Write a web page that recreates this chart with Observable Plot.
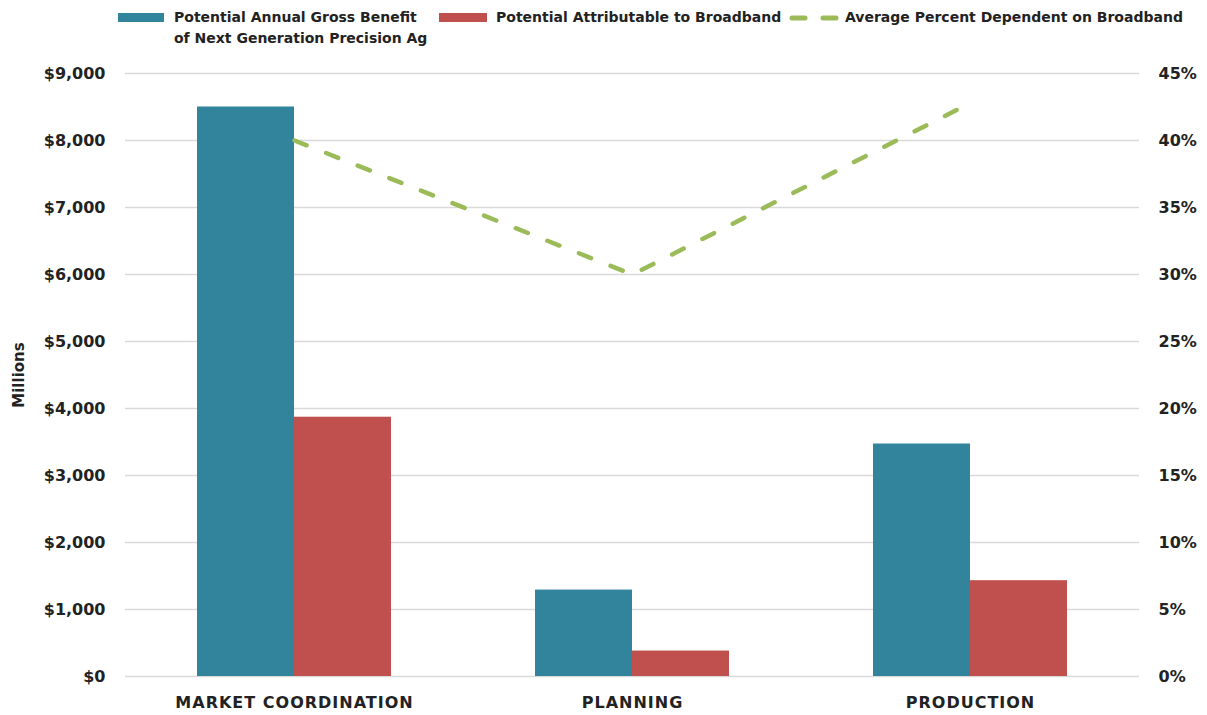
<!DOCTYPE html>
<html>
<head>
<meta charset="utf-8">
<script src="https://cdn.jsdelivr.net/npm/d3@7"></script>
<script src="https://cdn.jsdelivr.net/npm/@observablehq/plot@0.6"></script>
<style>
  html, body { margin: 0; padding: 0; background: #fff; }
  body { width: 1207px; height: 715px; overflow: hidden; font-family: "DejaVu Sans", sans-serif; }
  #legend { position: relative; height: 50px; font-weight: bold; font-size: 14px; color: #222; }
  .sw { position: absolute; }
  .lt { position: absolute; line-height: 21px; white-space: nowrap; }
  g[aria-label="x-axis tick label"] text { letter-spacing: 1px; }
</style>
</head>
<body>
<div id="legend"></div>
<div id="chart"></div>
<script>
const categories = ["MARKET COORDINATION", "PLANNING", "PRODUCTION"];
const grossBenefit = [8500, 1290, 3470];
const attributable = [3870, 380, 1430];
const pctDependent = [0.40, 0.30, 0.428];
const seriesNames = [
  "Potential Annual Gross Benefit of Next Generation Precision Ag",
  "Potential Attributable to Broadband",
  "Average Percent Dependent on Broadband"
];
const colors = ["#31849B", "#C0504D", "#9BBB59"];
const leftTicks = [0, 1000, 2000, 3000, 4000, 5000, 6000, 7000, 8000, 9000];
const rightTicks = [0, 0.05, 0.10, 0.15, 0.20, 0.25, 0.30, 0.35, 0.40, 0.45];

const yMax = 9000, pMax = 0.45;
const toY = p => p * yMax / pMax;

const barsBlue = categories.map((c, i) => ({category: c, value: grossBenefit[i]}));
const barsRed = categories.map((c, i) => ({category: c, value: attributable[i]}));
const linePts = categories.map((c, i) => ({category: c, pct: pctDependent[i]}));

const width = 1207, height = 665;
const marginLeft = 125, marginRight = 68, marginTop = 23, marginBottom = 39;
const padInner = 0.426, padOuter = 0.213;
const step = (width - marginLeft - marginRight) / (categories.length - padInner + 2 * padOuter);
const half = step * (1 - padInner) / 2;

const chart = Plot.plot({
  width, height, marginLeft, marginRight, marginTop, marginBottom,
  style: {fontFamily: "DejaVu Sans, sans-serif", fontWeight: "bold", fontSize: "16px", color: "#222", background: "#fff"},
  x: {domain: categories, paddingInner: padInner, paddingOuter: padOuter, label: null},
  y: {domain: [0, yMax]},
  marks: [
    Plot.gridY(leftTicks, {stroke: "#d9d9d9", strokeOpacity: 1, strokeWidth: 1.3}),
    Plot.barY(barsBlue, {x: "category", y: "value", fill: colors[0], insetRight: half}),
    Plot.barY(barsRed, {x: "category", y: "value", fill: colors[1], insetLeft: half}),
    Plot.line(linePts, {x: "category", y: d => toY(d.pct), stroke: colors[2], strokeWidth: 4.5,
      strokeDasharray: "13,21", strokeLinecap: "round"}),
    Plot.axisY({anchor: "left", ticks: leftTicks, tickSize: 0, tickPadding: 20,
      tickFormat: d => "$" + d3.format(",")(d), label: "Millions", labelAnchor: "center",
      labelArrow: "none", labelOffset: 112, fontSize: 16}),
    Plot.axisY({anchor: "right", ticks: rightTicks.map(toY), tickSize: 0, tickPadding: 19,
      tickFormat: v => Math.round(v / yMax * pMax * 100) + "%", label: null}),
    Plot.axisX({tickSize: 0, tickPadding: 20, label: null, fontSize: 16})
  ]
});
document.getElementById("chart").appendChild(chart);

chart.querySelectorAll("[aria-label='y-axis label'] text, g[aria-label='y-axis label']").forEach(el => el.style.fontSize = "15px");

// Legend
const legend = document.getElementById("legend");
function add(cls, style, html) {
  const el = document.createElement("div");
  el.className = cls;
  Object.assign(el.style, style);
  if (html != null) el.innerHTML = html;
  legend.appendChild(el);
  return el;
}
add("sw", {left: "118px", top: "13px", width: "46px", height: "9px", background: colors[0]});
add("lt", {left: "174px", top: "7px"}, "Potential Annual Gross Benefit<br>of Next Generation Precision Ag");
add("sw", {left: "439px", top: "13px", width: "48px", height: "9px", background: colors[1]});
add("lt", {left: "496px", top: "7px"}, seriesNames[1]);
const g = add("sw", {left: "789px", top: "11px", width: "50px", height: "12px"});
g.innerHTML = `<svg width="50" height="12"><line x1="3" y1="6" x2="47" y2="6" stroke="${colors[2]}" stroke-width="5" stroke-dasharray="13,18" stroke-linecap="round"/></svg>`;
add("lt", {left: "845px", top: "7px"}, seriesNames[2]);
</script>
</body>
</html>
